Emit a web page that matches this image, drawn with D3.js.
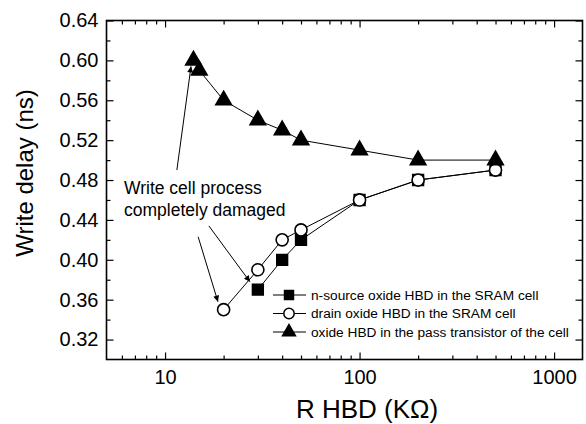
<!DOCTYPE html>
<meta charset="utf-8">
<script src="https://d3js.org/d3.v7.min.js"></script>
<style>
  body { margin: 0; background: #fff; }
  text { font-family: "Liberation Sans", Arial, sans-serif; fill: #000; }
</style>
<div id="chart"></div>
<script>

// R HBD (KOhm) and write delay (ns) per series
var nSourceR     = [30, 40, 50, 100, 200, 500];
var nSourceDelay = [0.37, 0.40, 0.42, 0.46, 0.48, 0.49];
var drainR       = [20, 30, 40, 50, 100, 200, 500];
var drainDelay   = [0.35, 0.39, 0.42, 0.43, 0.46, 0.48, 0.49];
var passR        = [14, 15, 20, 30, 40, 50, 100, 200, 500];
var passDelay    = [0.60, 0.59, 0.56, 0.54, 0.53, 0.52, 0.51, 0.50, 0.50];

var seriesNames = ["n-source oxide HBD in the SRAM cell",
                   "drain oxide HBD in the SRAM cell",
                   "oxide HBD in the pass transistor of the cell"];

var xMajor = [10, 100, 1000];
var xMinor = [6, 7, 8, 9, 20, 30, 40, 50, 60, 70, 80, 90, 200, 300, 400, 500, 600, 700, 800, 900];
var yMajor = [0.32, 0.36, 0.40, 0.44, 0.48, 0.52, 0.56, 0.60, 0.64];
var yMinor = [0.34, 0.38, 0.42, 0.46, 0.50, 0.54, 0.58, 0.62];

// annotation arrows, in data units [from R, from delay, to R, to delay]
var arrows = [[11.5, 0.490, 13.6, 0.594],
              [14.8, 0.423, 18.7, 0.358],
              [16.8, 0.434, 27.3, 0.378]];
var noteLines = ["Write cell process", "completely damaged"];
var noteR = 6.15, noteDelay = [0.466, 0.444];

var W = 586, H = 424;
var margin = {top: 20.5, right: 3.5, bottom: 64.5, left: 106.5};

var svg = d3.select("#chart").append("svg")
    .attr("width", W)
    .attr("height", H);

var x = d3.scaleLog().domain([5, 1400]).range([margin.left, W - margin.right]);
var y = d3.scaleLinear().domain([0.30, 0.64]).range([H - margin.bottom, margin.top]);

var x0 = margin.left, x1 = W - margin.right, y0 = H - margin.bottom, y1 = margin.top;

function styleAxis(g) {
  g.select(".domain").remove();
  g.selectAll("line").attr("stroke", "#000").attr("stroke-width", 1.2);
  g.selectAll("text").style("font-size", "20px").style("font-family", "'Liberation Sans', Arial, sans-serif");
}

// bottom
svg.append("g").attr("transform", "translate(0," + y0 + ")")
  .call(d3.axisBottom(x).tickValues(xMajor).tickSize(-7).tickPadding(10).tickFormat(d3.format("d")))
  .call(styleAxis);
svg.append("g").attr("transform", "translate(0," + y0 + ")")
  .call(d3.axisBottom(x).tickValues(xMinor).tickSize(-4).tickFormat(""))
  .call(styleAxis);
// top
svg.append("g").attr("transform", "translate(0," + y1 + ")")
  .call(d3.axisTop(x).tickValues(xMajor).tickSize(-7).tickFormat(""))
  .call(styleAxis);
svg.append("g").attr("transform", "translate(0," + y1 + ")")
  .call(d3.axisTop(x).tickValues(xMinor).tickSize(-4).tickFormat(""))
  .call(styleAxis);
// left
svg.append("g").attr("transform", "translate(" + x0 + ",0)")
  .call(d3.axisLeft(y).tickValues(yMajor).tickSize(-7).tickPadding(8).tickFormat(d3.format(".2f")))
  .call(styleAxis);
svg.append("g").attr("transform", "translate(" + x0 + ",0)")
  .call(d3.axisLeft(y).tickValues(yMinor).tickSize(-4).tickFormat(""))
  .call(styleAxis);
// right
svg.append("g").attr("transform", "translate(" + x1 + ",0)")
  .call(d3.axisRight(y).tickValues(yMajor).tickSize(-7).tickFormat(""))
  .call(styleAxis);
svg.append("g").attr("transform", "translate(" + x1 + ",0)")
  .call(d3.axisRight(y).tickValues(yMinor).tickSize(-4).tickFormat(""))
  .call(styleAxis);

// frame
svg.append("rect")
  .attr("x", x0).attr("y", y1)
  .attr("width", x1 - x0).attr("height", y0 - y1)
  .attr("fill", "none").attr("stroke", "#000").attr("stroke-width", 1.6);

// axis titles
svg.append("text")
  .attr("x", 367).attr("y", 418)
  .attr("text-anchor", "middle")
  .style("font-size", "26px")
  .text("R HBD (K\u03A9)");

svg.append("text")
  .attr("transform", "translate(33,173) rotate(-90)")
  .attr("text-anchor", "middle")
  .style("font-size", "24px")
  .text("Write delay (ns)");

// series
var series = [
  {r: nSourceR, d: nSourceDelay, sym: d3.symbolSquare, size: 115, fill: "#000", lsize: 80},
  {r: drainR, d: drainDelay, sym: d3.symbolCircle, size: 115, fill: "#fff", lsize: 85},
  {r: passR, d: passDelay, sym: d3.symbolTriangle, size: 105, fill: "#000", lsize: 72}
];

var line = d3.line().x(function(p) { return x(p[0]); }).y(function(p) { return y(p[1]); });

series.forEach(function(s) {
  var pts = s.r.map(function(r, i) { return [r, s.d[i]]; });
  svg.append("path")
    .attr("d", line(pts))
    .attr("fill", "none")
    .attr("stroke", "#000")
    .attr("stroke-width", 1);
  svg.selectAll(null)
    .data(pts)
    .enter().append("path")
    .attr("transform", function(p) { return "translate(" + x(p[0]) + "," + y(p[1]) + ")"; })
    .attr("d", d3.symbol().type(s.sym).size(s.size))
    .attr("fill", s.fill)
    .attr("stroke", "#000")
    .attr("stroke-width", 1.6);
});

// annotation
svg.append("defs").append("marker")
  .attr("id", "head")
  .attr("viewBox", "0 0 10 10")
  .attr("refX", 10).attr("refY", 5)
  .attr("markerWidth", 9).attr("markerHeight", 6)
  .attr("markerUnits", "userSpaceOnUse")
  .attr("orient", "auto")
  .append("path")
  .attr("d", "M0,0L10,5L0,10z")
  .attr("fill", "#000");

svg.selectAll(".arrow")
  .data(arrows)
  .enter().append("line")
  .attr("class", "arrow")
  .attr("x1", function(a) { return x(a[0]); })
  .attr("y1", function(a) { return y(a[1]); })
  .attr("x2", function(a) { return x(a[2]); })
  .attr("y2", function(a) { return y(a[3]); })
  .attr("stroke", "#000")
  .attr("stroke-width", 1)
  .attr("marker-end", "url(#head)");

svg.selectAll(".note")
  .data(noteLines)
  .enter().append("text")
  .attr("class", "note")
  .attr("x", x(noteR))
  .attr("y", function(d, i) { return y(noteDelay[i]); })
  .style("font-size", "17.5px")
  .text(function(d) { return d; });

// legend
var legend = svg.selectAll(".legend")
  .data(series)
  .enter().append("g")
  .attr("class", "legend")
  .attr("transform", function(d, i) { return "translate(289," + (295 + i * 18.5) + ")"; });

legend.append("line")
  .attr("x1", -16).attr("x2", 17)
  .attr("stroke", "#000").attr("stroke-width", 1);

legend.append("path")
  .attr("d", function(s) { return d3.symbol().type(s.sym).size(s.lsize)(); })
  .attr("fill", function(s) { return s.fill; })
  .attr("stroke", "#000")
  .attr("stroke-width", 1.5);

legend.append("text")
  .attr("x", 22)
  .attr("dy", "0.35em")
  .style("font-size", "13.7px")
  .text(function(d, i) { return seriesNames[i]; });

</script>
